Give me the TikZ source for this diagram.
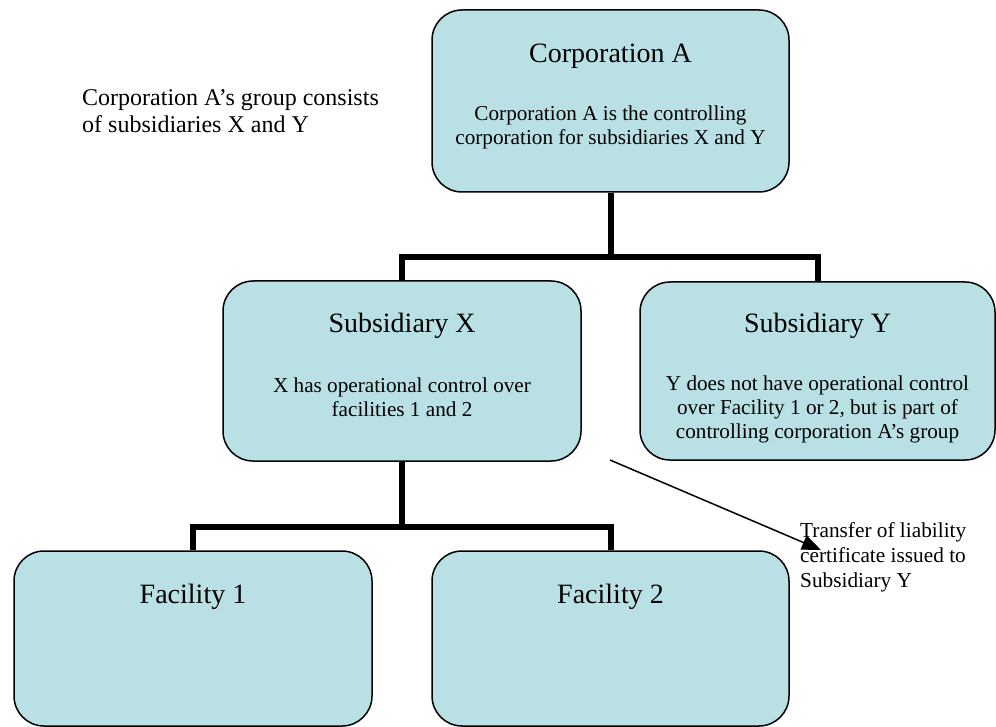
\documentclass[tikz,border=0pt]{standalone}
\usepackage{fontspec}
\setmainfont{Liberation Serif}
\usetikzlibrary{arrows.meta}
\definecolor{boxfill}{RGB}{185,224,228}
\tikzset{
  orgbox/.style={draw=black, line width=1.5pt, fill=boxfill, rounded corners=30pt, inner sep=0pt},
  titletext/.style={font=\fontsize{28}{32}\selectfont, inner sep=0pt, anchor=base},
  bodytext/.style={font=\fontsize{21.2}{24}\selectfont, inner sep=0pt, anchor=base},
  conn/.style={line width=6pt, line join=miter, line cap=butt},
  pointer/.style={line width=1.5pt, -{Triangle[length=19pt,width=15pt]}}
}
\begin{document}
\begin{tikzpicture}[x=1pt, y=-1pt]
\useasboundingbox (0,0) rectangle (996,727);
% boxes
\node[orgbox, minimum width=357pt, minimum height=182pt] (corpA) at (610.5,101) {};
\node[orgbox, minimum width=358pt, minimum height=180pt] (subX) at (402,371) {};
\node[orgbox, minimum width=355pt, minimum height=178pt] (subY) at (817.5,371) {};
\node[orgbox, minimum width=358pt, minimum height=175pt] (fac1) at (193,638.5) {};
\node[orgbox, minimum width=357pt, minimum height=175pt] (fac2) at (610.5,638.5) {};
% bus points
\coordinate (busA) at (610.5,257);
\coordinate (busX) at (402,527);
% connectors
\draw[conn] (corpA.south) -- (busA);
\draw[conn] (subX.north) |- (busA) -| (subY.north);
\draw[conn] (subX.south) -- (busX);
\draw[conn] (fac1.north) |- (busX) -| (fac2.north);
% texts
\node[titletext] (tA) at (610.5,63) {Corporation A};
\node[bodytext] (bA) at (610.5,121) {\begin{tabular}[t]{@{}c@{}}Corporation A is the controlling\\corporation for subsidiaries X and Y\end{tabular}};
\node[titletext] (tX) at (402,333) {Subsidiary X};
\node[bodytext] (bX) at (402,392) {\begin{tabular}[t]{@{}c@{}}X has operational control over\\facilities 1 and 2\end{tabular}};
\node[titletext] (tY) at (817.5,333) {Subsidiary Y};
\node[bodytext] (bY) at (817.5,390) {\begin{tabular}[t]{@{}c@{}}Y does not have operational control\\over Facility 1 or 2, but is part of\\controlling corporation A’s group\end{tabular}};
\node[titletext] (t1) at (193,603) {Facility 1};
\node[titletext] (t2) at (610.5,603) {Facility 2};
\node[inner sep=0pt, anchor=base west, font=\fontsize{24}{27}\selectfont] (note) at (82,106) {\begin{tabular}[t]{@{}l@{}}Corporation A’s group consists\\of subsidiaries X and Y\end{tabular}};
% transfer arrow
\coordinate (arrS) at (610,460);
\coordinate (arrE) at (821,550);
\draw[pointer] (arrS) -- (arrE);
\node[inner sep=0pt, anchor=base west, font=\fontsize{21.3}{25}\selectfont] (transfer) at (800,537) {\begin{tabular}[t]{@{}l@{}}Transfer of liability\\certificate issued to\\Subsidiary Y\end{tabular}};
\end{tikzpicture}
\end{document}
